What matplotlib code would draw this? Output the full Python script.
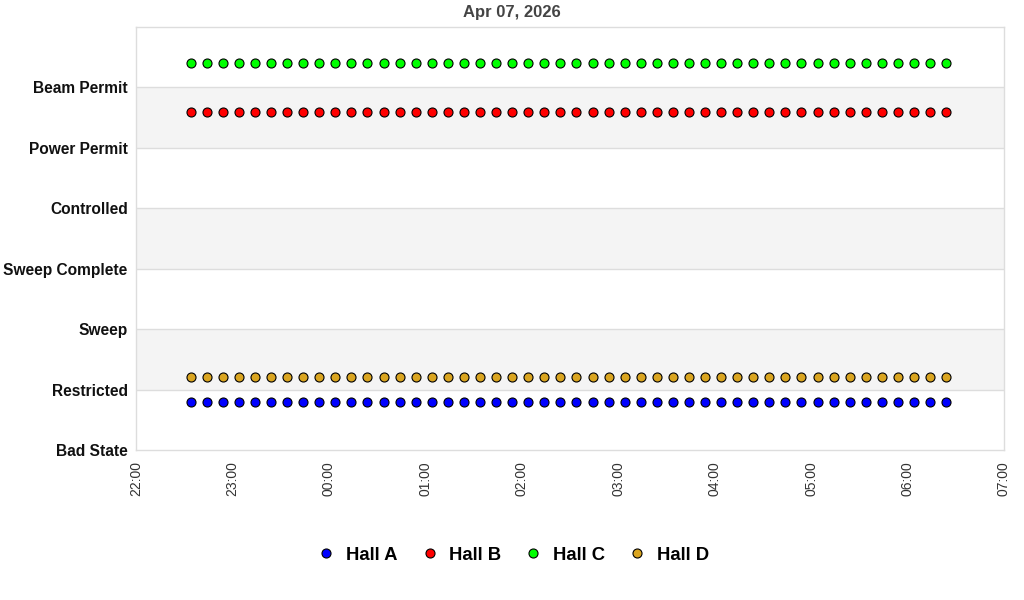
import matplotlib
matplotlib.use('Agg')
import matplotlib.pyplot as plt
import matplotlib.dates as mdates
import numpy as np
import pandas as pd

plt.rcParams['font.family'] = ['Liberation Sans', 'DejaVu Sans']

TITLE = 'Apr 07, 2026'
STATES = ['Bad State', 'Restricted', 'Sweep', 'Sweep Complete',
          'Controlled', 'Power Permit', 'Beam Permit']

# sample times: every 10 minutes, 22:34 -> 06:24
times = pd.date_range('2026-04-06 22:34', '2026-04-07 06:24', freq='10min')

HALLS = ['Hall A', 'Hall B', 'Hall C', 'Hall D']
HALL_COLORS = ['#0000ff', '#ff0000', '#00ff00', '#daa520']
# plotted level per hall (state index plus a small display offset)
hall_a = [0.8] * len(times)
hall_b = [5.6] * len(times)
hall_c = [6.4] * len(times)
hall_d = [1.2] * len(times)
SERIES = [hall_a, hall_b, hall_c, hall_d]

fig = plt.figure(figsize=(10.24, 6), dpi=100)
ax = fig.add_axes([136 / 1024, 1 - 450 / 600, 868 / 1024, 423 / 600])

x0 = pd.Timestamp('2026-04-06 22:00')
x1 = pd.Timestamp('2026-04-07 07:00')
ax.set_xlim(x0, x1)
ax.set_ylim(0, 7)

for lo in (1, 3, 5):
    ax.axhspan(lo, lo + 1, color='#f4f4f4', zorder=0, lw=0)
for y in range(1, 7):
    ax.axhline(y, color='#dddddd', lw=1, zorder=1)

for name, col, vals in zip(HALLS, HALL_COLORS, SERIES):
    ax.plot(times, vals, linestyle='none', marker='o', markersize=6.5,
            markerfacecolor=col, markeredgecolor='black', markeredgewidth=0.8,
            label=name, zorder=3)

ax.set_yticks(range(len(STATES)))
ax.set_yticklabels(STATES, fontsize=11.2, fontweight='bold', color='#111111')
ax.xaxis.set_major_locator(mdates.HourLocator())
ax.xaxis.set_major_formatter(mdates.DateFormatter('%H:%M'))
plt.setp(ax.get_xticklabels(), rotation=90, fontsize=10, color='#333333')
ax.tick_params(length=0, pad=8)
ax.tick_params(axis='y', pad=6)

for spine in ax.spines.values():
    spine.set_color('#dddddd')
    spine.set_linewidth(1)

fig.text(0.5, 1 - 13 / 600, TITLE, ha='center', va='center', fontsize=12,
         fontweight='bold', color='#444444')

leg = fig.legend(loc='center', bbox_to_anchor=(0.501, 1 - 555 / 600), ncol=4,
                 frameon=False, handletextpad=0.55, columnspacing=1.25,
                 handlelength=1.0, prop={'size': 13.3, 'weight': 'bold'})

fig.savefig('out.png', dpi=100, facecolor='white')
